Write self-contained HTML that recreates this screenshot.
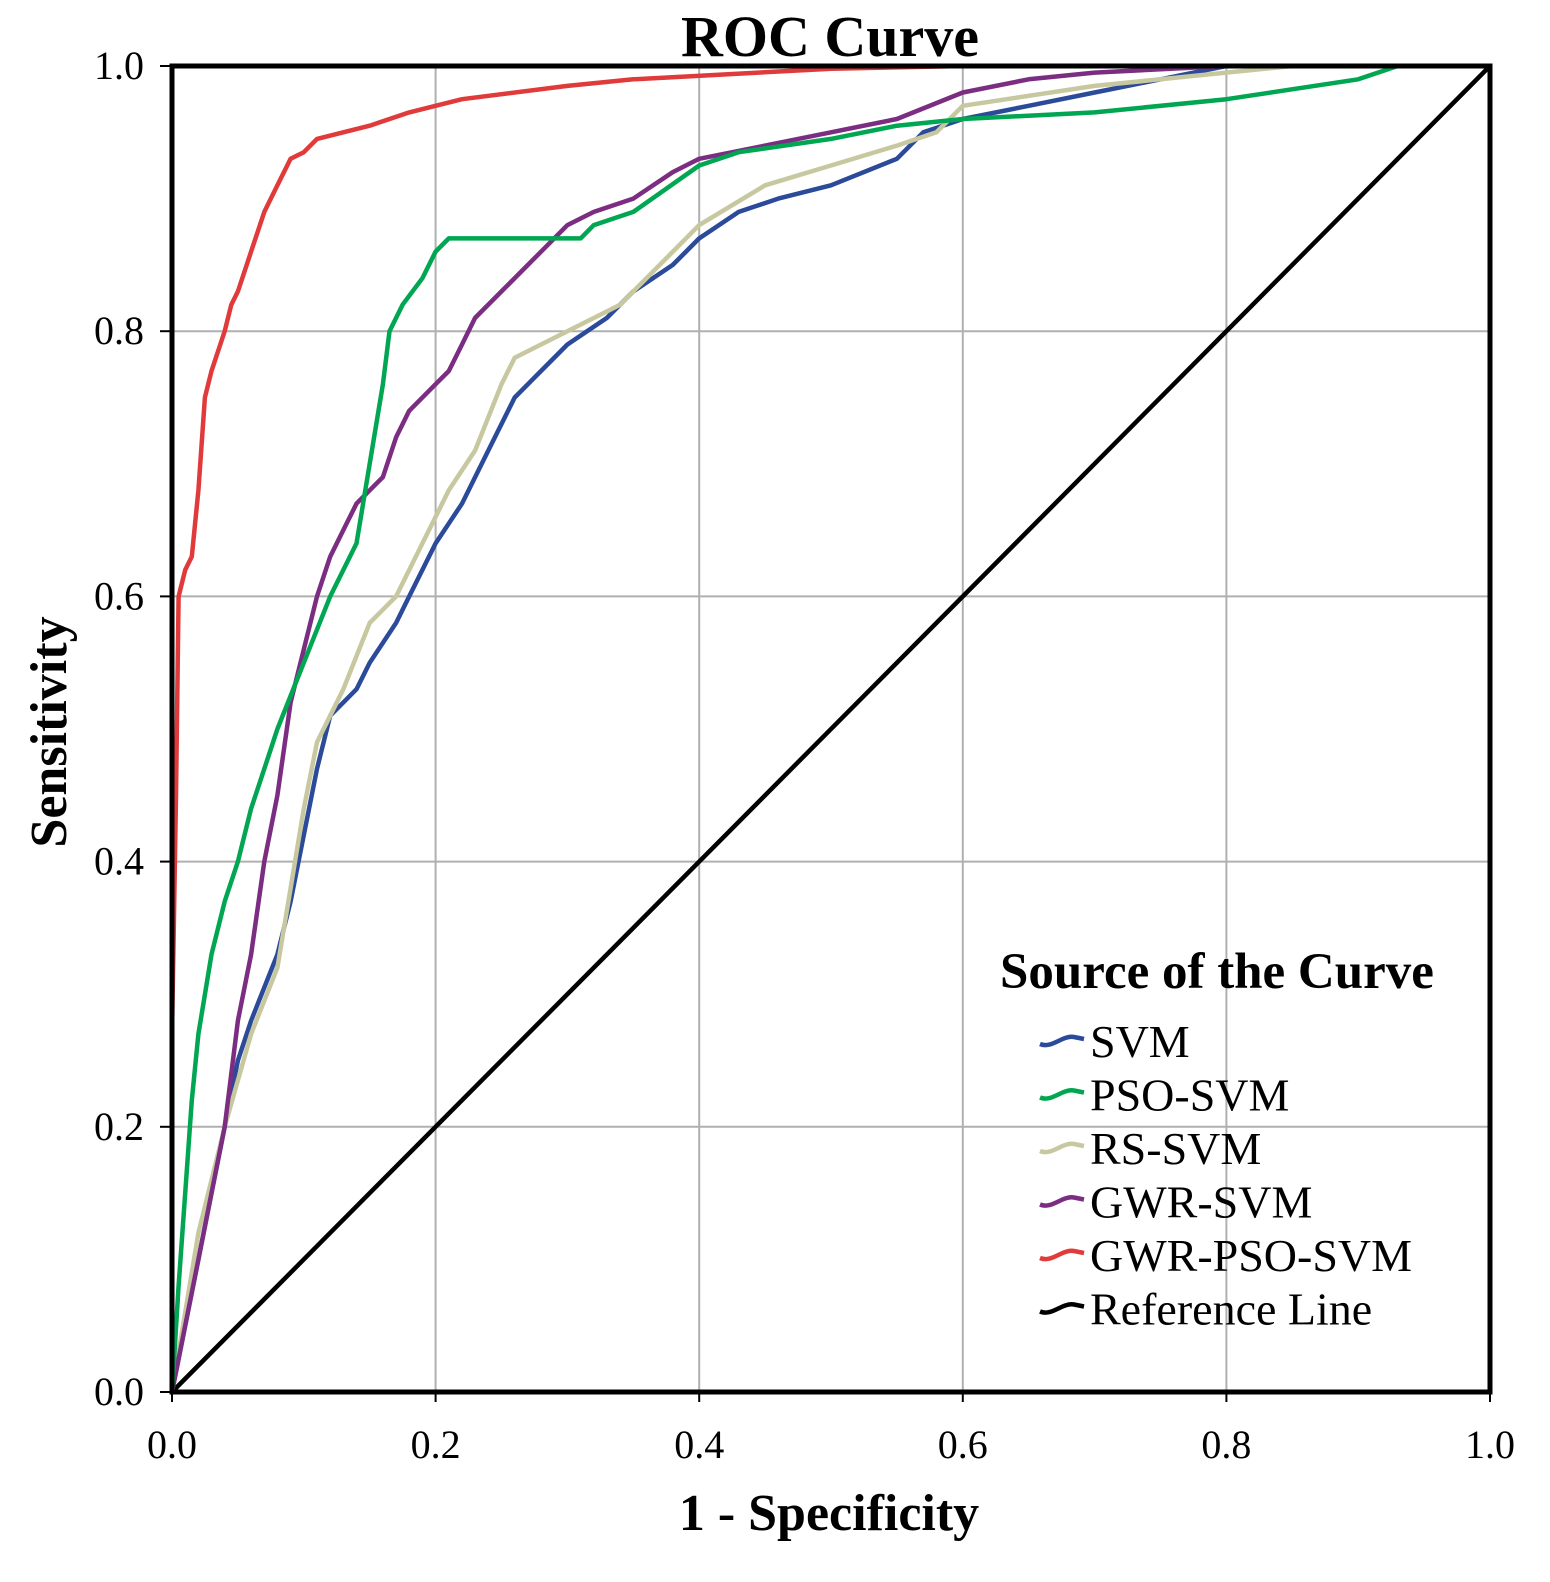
<!DOCTYPE html>
<html><head><meta charset="utf-8"><style>
html,body{margin:0;padding:0;background:#fff;}
svg{display:block;font-family:"Liberation Serif",serif;}
</style></head><body>
<svg id="chart" width="1550" height="1582" viewBox="0 0 1550 1582">
<g id="grid"></g>
<g id="ticks"></g>
<g id="series"></g>
<rect x="172" y="66" width="1318" height="1326" fill="none" stroke="#000" stroke-width="5"/>
<text x="830" y="56" text-anchor="middle" font-size="58" font-weight="bold">ROC Curve</text>
<text x="829" y="1530" text-anchor="middle" font-size="52" font-weight="bold">1 - Specificity</text>
<text transform="translate(66,732) rotate(-90)" text-anchor="middle" font-size="52" font-weight="bold">Sensitivity</text>
<g id="legend">
<text x="1000" y="988" font-size="51" font-weight="bold">Source of the Curve</text>
</g>
</svg>
<script>
const ticks = [0, 0.2, 0.4, 0.6, 0.8, 1.0];
const tickLabels = ["0.0", "0.2", "0.4", "0.6", "0.8", "1.0"];
const seriesNames = ["SVM", "PSO-SVM", "RS-SVM", "GWR-SVM", "GWR-PSO-SVM", "Reference Line"];
const seriesColors = ["#2b4a9a", "#00a651", "#c8c8a0", "#7b2d82", "#e03a3a", "#000000"];
const svmFpr = [0,0.02,0.03,0.04,0.05,0.06,0.08,0.09,0.1,0.11,0.12,0.14,0.15,0.17,0.18,0.2,0.22,0.24,0.26,0.28,0.3,0.33,0.35,0.38,0.4,0.43,0.46,0.5,0.55,0.57,0.6,0.65,0.7,0.75,0.8,1];
const svmTpr = [0,0.1,0.15,0.2,0.25,0.28,0.33,0.37,0.42,0.47,0.51,0.53,0.55,0.58,0.6,0.64,0.67,0.71,0.75,0.77,0.79,0.81,0.83,0.85,0.87,0.89,0.9,0.91,0.93,0.95,0.96,0.97,0.98,0.99,1,1];
const psoFpr = [0,0.005,0.01,0.015,0.02,0.03,0.04,0.05,0.06,0.07,0.08,0.1,0.12,0.14,0.15,0.16,0.165,0.175,0.19,0.2,0.21,0.31,0.32,0.35,0.4,0.43,0.5,0.55,0.6,0.7,0.8,0.9,0.93,1];
const psoTpr = [0,0.08,0.15,0.22,0.27,0.33,0.37,0.4,0.44,0.47,0.5,0.55,0.6,0.64,0.7,0.76,0.8,0.82,0.84,0.86,0.87,0.87,0.88,0.89,0.925,0.935,0.945,0.955,0.96,0.965,0.975,0.99,1,1];
const rsFpr = [0,0.02,0.04,0.06,0.08,0.09,0.1,0.11,0.13,0.15,0.17,0.19,0.21,0.23,0.25,0.26,0.3,0.34,0.37,0.4,0.45,0.5,0.55,0.58,0.6,0.7,0.85,1];
const rsTpr = [0,0.12,0.2,0.27,0.32,0.38,0.44,0.49,0.53,0.58,0.6,0.64,0.68,0.71,0.76,0.78,0.8,0.82,0.85,0.88,0.91,0.925,0.94,0.95,0.97,0.985,1,1];
const gwrFpr = [0,0.01,0.02,0.03,0.04,0.05,0.06,0.07,0.08,0.09,0.1,0.11,0.12,0.13,0.14,0.15,0.16,0.17,0.18,0.2,0.21,0.22,0.23,0.25,0.27,0.29,0.3,0.32,0.35,0.38,0.4,0.45,0.5,0.55,0.6,0.65,0.7,0.8,1];
const gwrTpr = [0,0.05,0.1,0.15,0.2,0.28,0.33,0.4,0.45,0.52,0.56,0.6,0.63,0.65,0.67,0.68,0.69,0.72,0.74,0.76,0.77,0.79,0.81,0.83,0.85,0.87,0.88,0.89,0.9,0.92,0.93,0.94,0.95,0.96,0.98,0.99,0.995,1,1];
const gpsFpr = [0,0,0.003,0.005,0.01,0.015,0.02,0.025,0.03,0.04,0.045,0.05,0.06,0.07,0.08,0.09,0.1,0.11,0.13,0.15,0.18,0.22,0.3,0.35,0.5,0.6,1];
const gpsTpr = [0,0.27,0.45,0.6,0.62,0.63,0.68,0.75,0.77,0.8,0.82,0.83,0.86,0.89,0.91,0.93,0.935,0.945,0.95,0.955,0.965,0.975,0.985,0.99,0.998,1,1];
const refFpr = [0,1];
const refTpr = [0,1];

const NS = "http://www.w3.org/2000/svg";
const X0 = 172, X1 = 1490, Y0 = 1392, Y1 = 66;
function xs(v){ return X0 + v*(X1-X0); }
function ys(v){ return Y0 - v*(Y0-Y1); }
function mk(tag, attrs, parent){ const e=document.createElementNS(NS,tag); for(const k in attrs) e.setAttribute(k,attrs[k]); parent.appendChild(e); return e; }

const grid=document.getElementById('grid'), tk=document.getElementById('ticks');
ticks.forEach((t,i)=>{
  const gv=mk('line',{x1:xs(t),x2:xs(t),y1:Y1,y2:Y0,stroke:'#b0b0b0','stroke-width':2},grid);
  
  
  const gh=mk('line',{x1:X0,x2:X1,y1:ys(t),y2:ys(t),stroke:'#b0b0b0','stroke-width':2},grid);
  
  
  const tx=mk('line',{x1:xs(t),x2:xs(t),y1:Y0,y2:Y0+10,stroke:'#000','stroke-width':2},tk);
  
  
  const ty=mk('line',{x1:X0-12,x2:X0,y1:ys(t),y2:ys(t),stroke:'#000','stroke-width':2},tk);
  
  
  const lx=mk('text',{x:xs(t),y:Y0+66,'text-anchor':'middle','font-size':40},tk);
  lx.textContent=tickLabels[i];
  
  
  const ly=mk('text',{x:X0-28,y:ys(t)+13,'text-anchor':'end','font-size':40},tk);
  ly.textContent=tickLabels[i];
  
  
});

const allFpr=[svmFpr,psoFpr,rsFpr,gwrFpr,gpsFpr,refFpr];
const allTpr=[svmTpr,psoTpr,rsTpr,gwrTpr,gpsTpr,refTpr];
const order=[5,0,2,3,1,4];
const sg=document.getElementById('series');
order.forEach(i=>{
  const d=allFpr[i].map((f,j)=>(j?'L':'M')+xs(f).toFixed(1)+' '+ys(allTpr[i][j]).toFixed(1)).join(' ');
  const p=mk('path',{d:d,fill:'none',stroke:seriesColors[i],'stroke-width':4.5,'stroke-linejoin':'round'},sg);
  
  
});

const lg=document.getElementById('legend');
seriesNames.forEach((n,i)=>{
  const y=1041+i*53.5;
  const sw=mk('path',{d:`M1040 ${y+3} C1052 ${y+8},1062 ${y-6},1074 ${y-4} L1084 ${y-2}`,fill:'none',stroke:seriesColors[i],'stroke-width':4.5},lg);
  
  
  const t=mk('text',{x:1090,y:y+16,'font-size':46},lg);
  t.textContent=n;
  
  
});
</script>
</body></html>
